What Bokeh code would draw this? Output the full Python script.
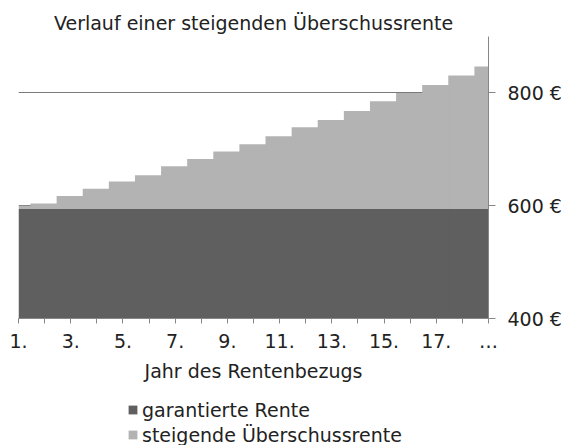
from bokeh.plotting import figure
from bokeh.layouts import column
from bokeh.models import ColumnDataSource, Range1d, FixedTicker, Legend, LegendItem
from bokeh.embed import file_html
from bokeh.resources import INLINE

# ---- data ----
years = [1, 2, 3, 4, 5, 6, 7, 8, 9, 10, 11, 12, 13, 14, 15, 16, 17, 18, 19]
year_labels = ["1.", "", "3.", "", "5.", "", "7.", "", "9.", "", "11.", "",
               "13.", "", "15.", "", "17.", "", "…"]
garantiert = [594, 594, 594, 594, 594, 594, 594, 594, 594, 594,
              594, 594, 594, 594, 594, 594, 594, 594, 594]
ueberschuss = [6, 10, 23, 36, 49, 60, 76, 89, 102, 115,
               129, 145, 158, 174, 191, 206, 220, 237, 253]
y_ticks = [400, 600, 800]
y_tick_labels = ["400 €", "600 €", "800 €"]
series_names = ["garantierte Rente", "steigende Überschussrente"]
title_text = "Verlauf einer steigenden Überschussrente"
x_title = "Jahr des Rentenbezugs"

FONT = "DejaVu Sans"
FS = "19px"
DARK = "#5f5f5f"
LIGHT = "#b3b3b3"
AXIS = "#868686"
TXT = "#222222"

src = ColumnDataSource(dict(x=years, garantiert=garantiert, ueberschuss=ueberschuss))

p = figure(width=564, height=392,
           x_range=Range1d(1, 19), y_range=Range1d(400, 900),
           y_axis_location="right",
           output_backend="svg", toolbar_location=None,
           min_border_left=18, min_border_right=76,
           min_border_top=36, min_border_bottom=74,
           title=title_text)

p.outline_line_color = None
p.background_fill_color = "white"

p.title.align = "center"
p.title.text_font = FONT
p.title.text_font_size = FS
p.title.text_font_style = "normal"
p.title.text_color = TXT
p.title.standoff = 5

rs = p.vbar_stack(["garantiert", "ueberschuss"], x="x", width=1.08, source=src,
                  fill_color=[DARK, LIGHT], line_color=None)

# x axis
xa = p.xaxis[0]
xa.ticker = FixedTicker(ticks=years)
xa.major_label_overrides = {y: l for y, l in zip(years, year_labels)}
xa.axis_label = x_title
xa.axis_label_text_font = FONT
xa.axis_label_text_font_size = FS
xa.axis_label_text_font_style = "normal"
xa.axis_label_text_color = TXT
xa.axis_label_standoff = 5
xa.major_label_text_font = FONT
xa.major_label_text_font_size = FS
xa.major_label_text_color = TXT
xa.major_label_standoff = 6
xa.major_tick_out = 5
xa.major_tick_in = 0
xa.minor_tick_line_color = None
xa.axis_line_color = AXIS
xa.major_tick_line_color = AXIS

# y axis (right)
ya = p.yaxis[0]
ya.ticker = FixedTicker(ticks=y_ticks)
ya.major_label_overrides = {t: l for t, l in zip(y_ticks, y_tick_labels)}
ya.major_label_text_font = FONT
ya.major_label_text_font_size = FS
ya.major_label_text_color = TXT
ya.major_label_standoff = 12
ya.major_tick_out = 7
ya.major_tick_in = 0
ya.minor_tick_line_color = None
ya.axis_line_color = AXIS
ya.major_tick_line_color = AXIS

p.xgrid.grid_line_color = None
p.ygrid.ticker = FixedTicker(ticks=y_ticks)
p.ygrid.grid_line_color = "#7a7a7a"
p.ygrid.grid_line_width = 1

# ---- legend strip below the chart ----
lg = figure(width=564, height=53, x_range=Range1d(0, 1), y_range=Range1d(0, 1),
            x_axis_type=None, y_axis_type=None,
            output_backend="svg", toolbar_location=None,
            min_border=0, min_border_left=0, min_border_right=0,
            min_border_top=0, min_border_bottom=0)
lg.outline_line_color = None
lg.xgrid.grid_line_color = None
lg.ygrid.grid_line_color = None
# zero-height sample marks that only serve as legend swatches
swatch = ColumnDataSource(dict(x=[0.5], top=[0]))
lr1 = lg.vbar(x="x", top="top", width=0.0, source=swatch, fill_color=DARK, line_color=None)
lr2 = lg.vbar(x="x", top="top", width=0.0, source=swatch, fill_color=LIGHT, line_color=None)

legend = Legend(items=[LegendItem(label=series_names[0], renderers=[lr1]),
                       LegendItem(label=series_names[1], renderers=[lr2])],
                orientation="vertical", location=(109, -2),
                border_line_color=None, background_fill_alpha=0,
                glyph_width=11, glyph_height=11, label_standoff=4,
                label_text_font=FONT, label_text_font_size=FS,
                label_text_color=TXT,
                label_height=25, spacing=0, padding=0, margin=0)
lg.add_layout(legend, "center")

layout = column(p, lg, spacing=0)
open("out.html", "w").write(file_html(layout, INLINE))
